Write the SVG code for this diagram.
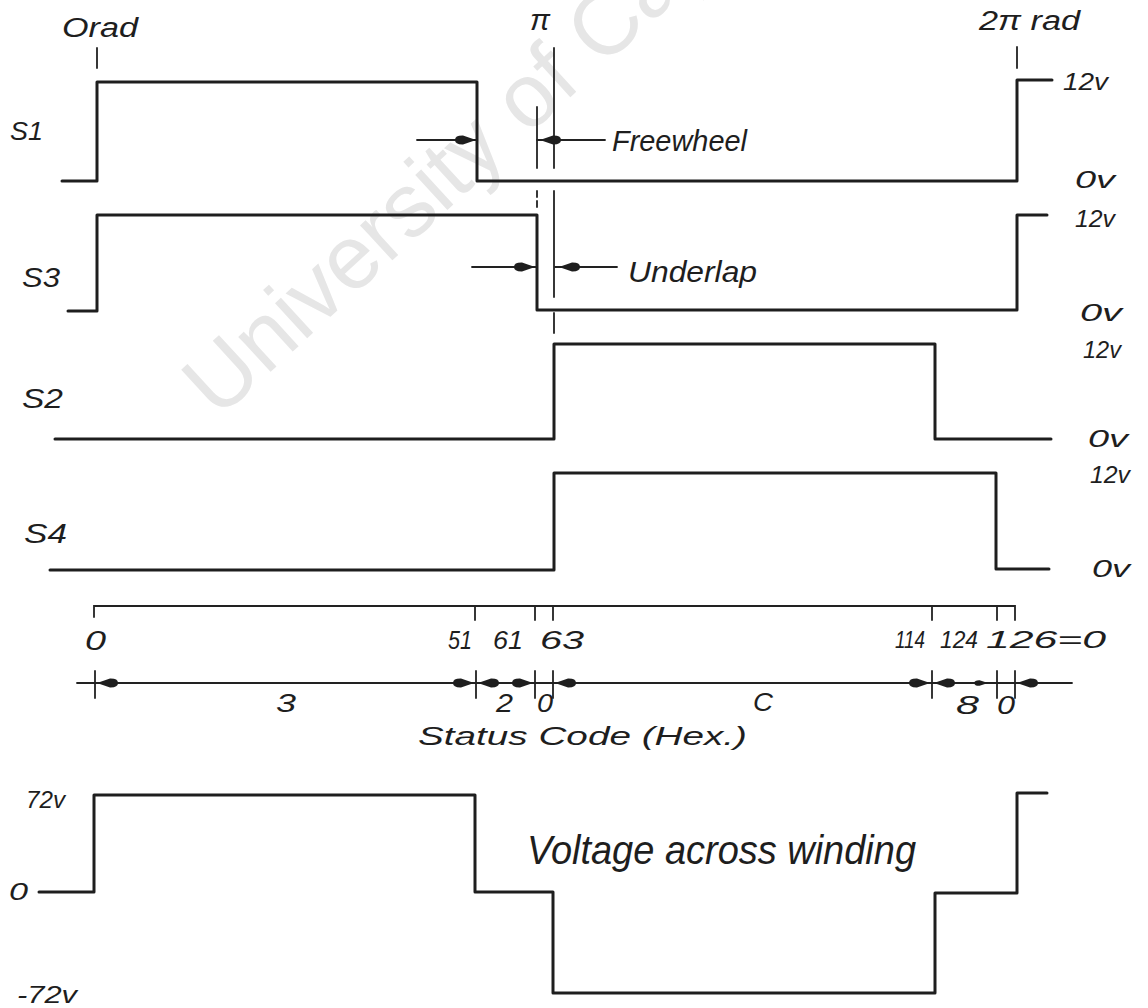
<svg xmlns="http://www.w3.org/2000/svg" xmlns:xlink="http://www.w3.org/1999/xlink" width="1148" height="1008" viewBox="0 0 1148 1008">
<style>
  .wave { fill: none; stroke: #1e1e1e; stroke-width: 3; stroke-linejoin: round; stroke-linecap: round; }
  .thin { fill: none; stroke: #222; stroke-width: 1.8; stroke-linecap: round; }
  .lbl { font-family: "Liberation Sans", Arial, sans-serif; font-style: italic; fill: #1e1e1e; }
  .wm { font-family: "Liberation Sans", Arial, sans-serif; fill: #e6e6e6; }
  .ah { fill: #1e1e1e; }
</style>
<defs>
  <path id="ahR" class="ah" d="M0,0 L-13,-4.4 Q-21,-4.6 -21,0 Q-21,4.6 -13,4.4 Z"/>
  <path id="ahL" class="ah" d="M0,0 L13,-4.4 Q21,-4.6 21,0 Q21,4.6 13,4.4 Z"/>
</defs>
<rect width="1148" height="1008" fill="#ffffff"/>

<g id="watermark">
  <text class="wm" transform="translate(218,420) rotate(-42.5)" font-size="90">University of Cape Town</text>
</g>

<g id="angle-marks">
  <text class="lbl" x="62" y="37" font-size="27" textLength="76" lengthAdjust="spacingAndGlyphs">Orad</text>
  <text class="lbl" x="530" y="30" font-size="30" textLength="20" lengthAdjust="spacingAndGlyphs">π</text>
  <text class="lbl" x="979" y="30" font-size="27" textLength="101" lengthAdjust="spacingAndGlyphs">2π rad</text>
  <path class="thin" d="M97,48 V68 M1017,47 V68"/>
</g>

<g id="S1">
  <text class="lbl" x="10" y="140" font-size="26" textLength="33" lengthAdjust="spacingAndGlyphs">S1</text>
  <path class="wave" d="M62,181 H97 V82 H477 V181 H1017 V80 H1052"/>
  <text class="lbl" x="1063" y="90" font-size="23" textLength="45" lengthAdjust="spacingAndGlyphs">12v</text>
  <text class="lbl" x="1075" y="188" font-size="24" textLength="40" lengthAdjust="spacingAndGlyphs">0v</text>
</g>

<g id="S3">
  <text class="lbl" x="22" y="287" font-size="27" textLength="38" lengthAdjust="spacingAndGlyphs">S3</text>
  <path class="wave" d="M68,311 H97 V215 H537 V310 H1017 V215 H1047"/>
  <text class="lbl" x="1075" y="227" font-size="23" textLength="40" lengthAdjust="spacingAndGlyphs">12v</text>
  <text class="lbl" x="1080" y="321" font-size="24" textLength="42" lengthAdjust="spacingAndGlyphs">0v</text>
</g>

<g id="S2">
  <text class="lbl" x="22" y="408" font-size="28" textLength="41" lengthAdjust="spacingAndGlyphs">S2</text>
  <path class="wave" d="M55,439 H554 V344 H935 V439 H1051"/>
  <text class="lbl" x="1083" y="358" font-size="23" textLength="38" lengthAdjust="spacingAndGlyphs">12v</text>
  <text class="lbl" x="1088" y="447" font-size="24" textLength="40" lengthAdjust="spacingAndGlyphs">0v</text>
</g>

<g id="S4">
  <text class="lbl" x="24" y="543" font-size="27" textLength="43" lengthAdjust="spacingAndGlyphs">S4</text>
  <path class="wave" d="M50,570 H554 V473 H996 V569 H1049"/>
  <text class="lbl" x="1090" y="483" font-size="23" textLength="40" lengthAdjust="spacingAndGlyphs">12v</text>
  <text class="lbl" x="1092" y="577" font-size="24" textLength="38" lengthAdjust="spacingAndGlyphs">0v</text>
</g>

<g id="connectors">
  <path class="thin" d="M554,48 V168 M554,191 V297 M554,313 V333"/>
  <path class="thin" d="M537,107 V168"/>
  <path class="thin" d="M537,191 V207" stroke-dasharray="6 4"/>
  <path class="thin" d="M417,140 H476"/>
  <use xlink:href="#ahR" x="476" y="140"/>
  <path class="thin" d="M537,140 H605"/>
  <use xlink:href="#ahL" x="540" y="140"/>
  <path class="thin" d="M472,267 H536"/>
  <use xlink:href="#ahR" x="535" y="267"/>
  <path class="thin" d="M555,267 H617"/>
  <use xlink:href="#ahL" x="559" y="267"/>
</g>
<g id="freewheel-label">
  <text class="lbl" x="612" y="151" font-size="30" textLength="135" lengthAdjust="spacingAndGlyphs">Freewheel</text>
</g>
<g id="underlap-label">
  <text class="lbl" x="628" y="282" font-size="30" textLength="129" lengthAdjust="spacingAndGlyphs">Underlap</text>
</g>

<g id="count-axis">
  <path class="thin" stroke-width="2" d="M94,617 V606 H1015 V620 M475,606 V620 M535,606 V620 M553,606 V620 M932,606 V620 M997,606 V620"/>
  <text class="lbl" x="85" y="650" font-size="28" textLength="21" lengthAdjust="spacingAndGlyphs">0</text>
  <text class="lbl" x="448" y="649" font-size="26" textLength="24" lengthAdjust="spacingAndGlyphs">51</text>
  <text class="lbl" x="493" y="649" font-size="26" textLength="30" lengthAdjust="spacingAndGlyphs">61</text>
  <text class="lbl" x="540" y="649" font-size="26" textLength="44" lengthAdjust="spacingAndGlyphs">63</text>
  <text class="lbl" x="895" y="648" font-size="24" textLength="30" lengthAdjust="spacingAndGlyphs">114</text>
  <text class="lbl" x="940" y="648" font-size="24" textLength="38" lengthAdjust="spacingAndGlyphs">124</text>
  <text class="lbl" x="986" y="648" font-size="24" textLength="120" lengthAdjust="spacingAndGlyphs">126=0</text>
</g>

<g id="status-codes">
  <path class="thin" d="M77,683 H1072"/>
  <path class="thin" d="M95,671 V698 M476,671 V698 M535,671 V698 M553,671 V698 M932,671 V698 M997,671 V698 M1015,671 V698"/>
  <use xlink:href="#ahL" x="97" y="683"/>
  <use xlink:href="#ahR" x="474" y="683"/>
  <use xlink:href="#ahL" x="478" y="683"/>
  <use xlink:href="#ahR" x="533" y="683"/>
  <use xlink:href="#ahL" x="555" y="683"/>
  <use xlink:href="#ahR" x="930" y="683"/>
  <use xlink:href="#ahL" x="934" y="683"/>
  <use xlink:href="#ahR" x="988" y="683" transform="translate(988,683) scale(0.65) translate(-988,-683)"/>
  <use xlink:href="#ahL" x="1017" y="683"/>
  <text class="lbl" x="276" y="712" font-size="26" textLength="20" lengthAdjust="spacingAndGlyphs">3</text>
  <text class="lbl" x="496" y="712" font-size="25" textLength="17" lengthAdjust="spacingAndGlyphs">2</text>
  <text class="lbl" x="537" y="712" font-size="25" textLength="16" lengthAdjust="spacingAndGlyphs">0</text>
  <text class="lbl" x="753" y="711" font-size="26" textLength="20" lengthAdjust="spacingAndGlyphs">C</text>
  <text class="lbl" x="956" y="714" font-size="26" textLength="23" lengthAdjust="spacingAndGlyphs">8</text>
  <text class="lbl" x="997" y="714" font-size="26" textLength="18" lengthAdjust="spacingAndGlyphs">0</text>
  <text class="lbl" x="418" y="745" font-size="26" textLength="329" lengthAdjust="spacingAndGlyphs">Status Code (Hex.)</text>
</g>

<g id="winding-voltage">
  <text class="lbl" x="26" y="808" font-size="24" textLength="39" lengthAdjust="spacingAndGlyphs">72v</text>
  <text class="lbl" x="9" y="900" font-size="24" textLength="19" lengthAdjust="spacingAndGlyphs">0</text>
  <text class="lbl" x="17" y="1003" font-size="24" textLength="60" lengthAdjust="spacingAndGlyphs">-72v</text>
  <path class="wave" d="M39,892 H94 V795 H475 V892 H553 V993 H935 V893 H1017 V793 H1047"/>
  <text class="lbl" x="527" y="864" font-size="40" textLength="389" lengthAdjust="spacingAndGlyphs">Voltage across winding</text>
</g>
</svg>
